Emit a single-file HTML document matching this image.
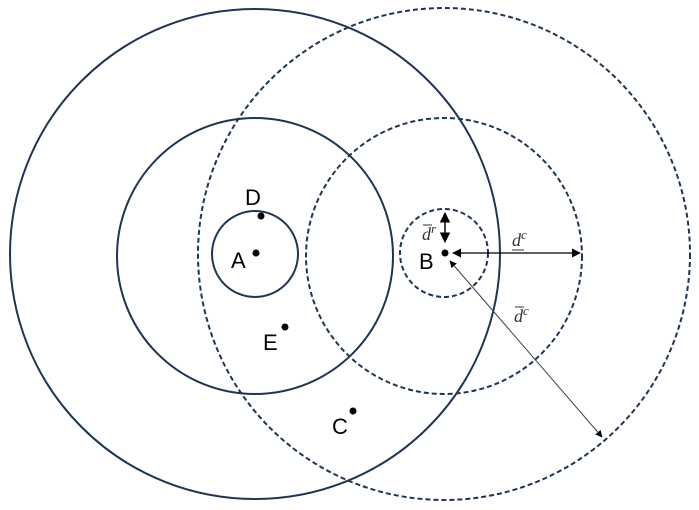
<!DOCTYPE html>
<html><head><style>body{margin:0;background:#fff}svg{display:block}</style></head><body>
<svg width="699" height="510" viewBox="0 0 699 510" xmlns="http://www.w3.org/2000/svg">
<defs>
<marker id="ah" viewBox="0 0 10 10" refX="9" refY="5" markerWidth="7" markerHeight="7" orient="auto-start-reverse"><path d="M0,0 L10,5 L0,10 z" fill="#000"/></marker>
</defs>
<g fill="none" stroke="#1f3556" stroke-width="2">
<circle cx="255" cy="254" r="245"/>
<circle cx="255" cy="256" r="138"/>
<circle cx="255" cy="254" r="43"/>
<g stroke-dasharray="5,3">
<circle cx="444" cy="254" r="246"/>
<circle cx="444" cy="256" r="138"/>
<circle cx="444" cy="253" r="44"/>
</g>
</g>
<g stroke="#000">
<line x1="453" y1="253" x2="580" y2="253" stroke-width="1.3" marker-start="url(#ah)" marker-end="url(#ah)"/>
<line x1="445" y1="213" x2="445" y2="242" stroke-width="1.5" marker-start="url(#ah)" marker-end="url(#ah)"/>
<line x1="450" y1="261" x2="602" y2="437" stroke="#444" stroke-width="1" marker-start="url(#ah)" marker-end="url(#ah)"/>
</g>
<g fill="#000">
<circle cx="256" cy="253" r="3.5"/>
<circle cx="261" cy="216" r="3.5"/>
<circle cx="285" cy="327" r="3.5"/>
<circle cx="353" cy="411" r="3.5"/>
<circle cx="445" cy="253" r="3.5"/>
</g>
<g font-family="Liberation Sans, sans-serif" font-size="22" fill="#000">
<text x="231" y="268">A</text>
<text x="245" y="205">D</text>
<text x="263" y="350">E</text>
<text x="332" y="434">C</text>
<text x="419" y="269">B</text>
</g>
<g font-family="Liberation Serif, serif" font-style="italic" fill="#333">
<text x="422" y="240" font-size="18">d<tspan font-size="13" dy="-7">r</tspan></text>
<line x1="423" y1="225" x2="432" y2="225" stroke="#333"/>
<text x="512" y="246" font-size="18">d<tspan font-size="13" dy="-7">c</tspan></text>
<line x1="512" y1="250" x2="524" y2="250" stroke="#333"/>
<text x="514" y="322" font-size="18">d<tspan font-size="13" dy="-7">c</tspan></text>
<line x1="515" y1="307" x2="524" y2="307" stroke="#333"/>
</g>
</svg>
</body></html>
